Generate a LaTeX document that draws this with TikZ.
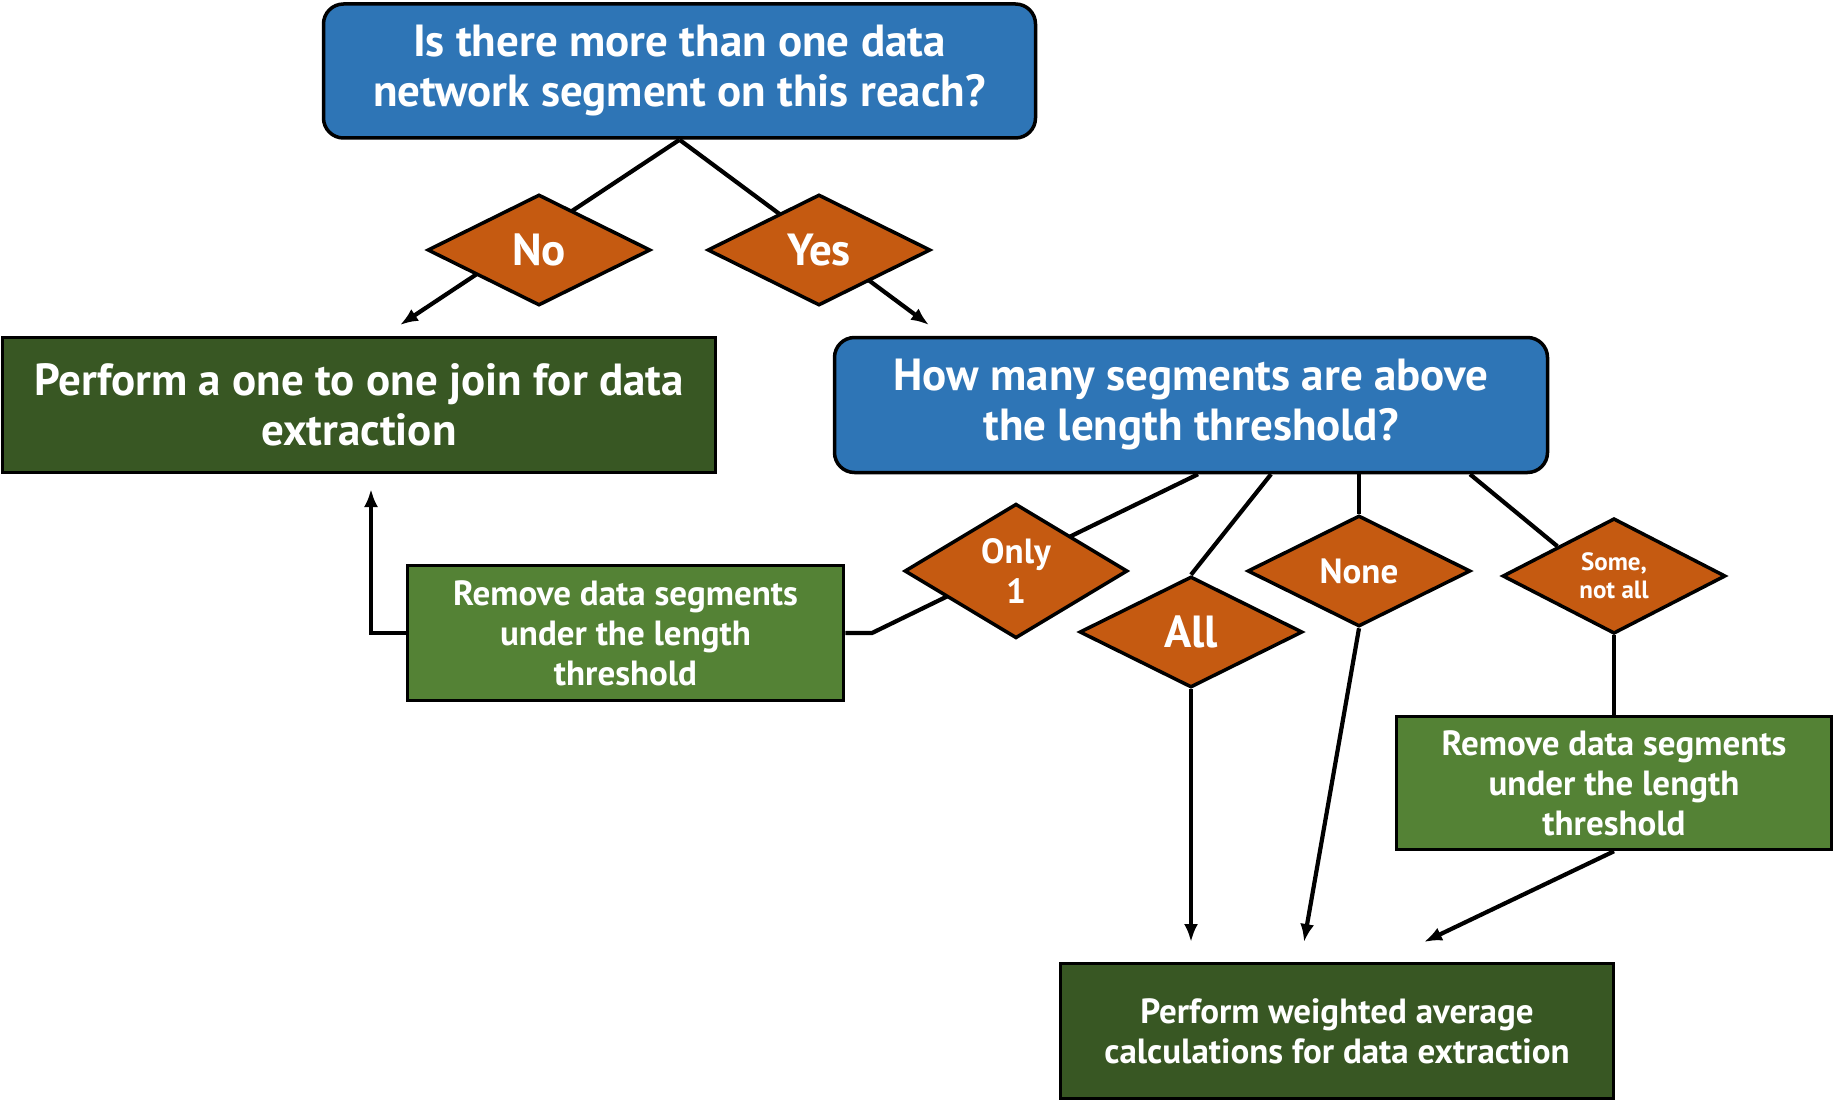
\documentclass[tikz,border=0pt]{standalone}
\usepackage{fontspec}
\setmainfont{PT Sans}
\usetikzlibrary{shapes.geometric,arrows.meta}
\definecolor{qblue}{HTML}{2E75B6}
\definecolor{aorange}{HTML}{C55A11}
\definecolor{darkgreen}{HTML}{385723}
\definecolor{midgreen}{HTML}{548235}
\pgfdeclarelayer{back}
\pgfsetlayers{back,main}
\tikzset{
  txtL/.style={font=\bfseries\fontsize{45}{50}\selectfont},
  txtM/.style={font=\bfseries\fontsize{35}{40}\selectfont},
  txtS/.style={font=\bfseries\fontsize{25}{28}\selectfont},
  box/.style={draw=black,line width=3.5pt,text=white,align=center,inner sep=0pt},
  question/.style={box,fill=qblue,rounded corners=20pt,txtL},
  result/.style={box,fill=darkgreen},
  trim/.style={box,fill=midgreen,txtM},
  answer/.style={diamond,draw=black,line width=3.5pt,fill=aorange,text=white,
    align=center,inner sep=0pt,minimum width=223pt,minimum height=111pt},
  link/.style={line width=4.2pt},
  flow/.style={line width=4.2pt,-{Latex[length=18pt,width=14pt]}}
}
\begin{document}
\begin{tikzpicture}[x=1pt,y=-1pt]
      \useasboundingbox (0,0) rectangle (1835,1102);
      \draw
        (679.5,71) node[question,minimum width=712pt,minimum height=134pt] (q1)
          {Is there more than one data\\network segment on this reach?}
        (359,405) node[result,txtL,minimum width=713pt,minimum height=135pt] (join)
          {Perform a one to one join for data\\extraction}
        (1191,405) node[question,minimum width=713pt,minimum height=135pt] (q2)
          {How many segments are above\\the length threshold?}
        (625.5,633) node[trim,minimum width=436pt,minimum height=135pt] (rmA)
          {Remove data segments\\under the length\\threshold}
        (1614,783) node[trim,minimum width=435pt,minimum height=133pt] (rmB)
          {Remove data segments\\under the length\\threshold}
        (1337,1031) node[result,txtM,minimum width=553pt,minimum height=135pt] (avg)
          {Perform weighted average\\calculations for data extraction}
        (539,250) node[answer,txtL] (no){No}
        (819,250) node[answer,txtL] (yes){Yes}
        (1016,571) node[answer,txtM] (only){Only\\1}
        (1191,632) node[answer,txtL] (all){All}
        (1359,571) node[answer,txtM] (none){None}
        (1614,576) node[answer,txtS] (some){Some,\\not all};
      \coordinate (noTip) at (400,325);
      \coordinate (yesTip) at (929,325);
      \coordinate (joinTip) at (371,489);
      \coordinate (onlyBend) at (872,633);
      \coordinate (allTip) at (1191,942);
      \coordinate (noneTip) at (1304,942);
      \coordinate (someTip) at (1424,942);
      \begin{pgfonlayer}{back}
        \draw[flow] (q1.south) -- (noTip);
        \draw[flow] (q1.south) -- (yesTip);
        \draw[link] ([xshift=7pt]q2.south) -- (onlyBend) -- (rmA.east);
        \draw[flow] (rmA.west) -| (joinTip);
        \draw[link] ([xshift=80pt]q2.south) -- (all.north);
        \draw[flow] (all.south) -- (allTip);
        \draw[link] ([xshift=168pt]q2.south) -- (none.north);
        \draw[flow] (none.south) -- (noneTip);
        \draw[link] ([xshift=279pt]q2.south) -- (some.north west);
        \draw[link] (some.south) -- (rmB.north);
        \draw[flow] (rmB.south) -- (someTip);
      \end{pgfonlayer}
    \end{tikzpicture}
\end{document}
